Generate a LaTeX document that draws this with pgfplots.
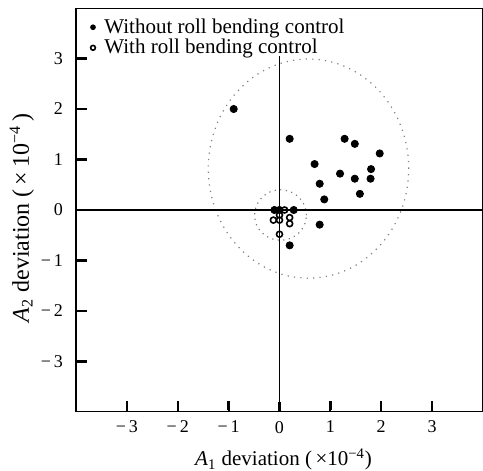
\documentclass[border=0pt]{standalone}
\usepackage{fontspec}
\setmainfont{Liberation Serif}
\usepackage{pgfplots}
\pgfplotsset{compat=1.18}
\begin{document}
\begin{tikzpicture}
\path[use as bounding box] (-38pt,-29.5pt) rectangle (203.5pt,206pt);
\begin{axis}[
  at={(0,0)}, anchor=south west,
  scale only axis, width=203.5pt, height=202pt,
  xmin=-4, xmax=4, ymin=-4, ymax=4,
  axis line style={line width=0.5pt},
  tick align=inside, tick pos=left,
  major tick length=5pt,
  every tick/.style={black, line width=1.1pt},
  xtick={-3,-2,-1,0,1,2,3}, ytick={-3,-2,-1,0,1,2,3},
  xticklabels={−\,3,−\,2,−\,1,0,1,2,3},
  yticklabels={−\,3,−\,2,−\,1,0,1,2,3},
  ticklabel style={font=\fontsize{9}{10}\selectfont},
  xticklabel style={yshift=-1pt},
  yticklabel style={xshift=-3pt},
  xlabel={\textit{A}\textsubscript{1} deviation (\,×10\textsuperscript{−4})},
  ylabel={\textit{A}\textsubscript{2} deviation (\,×\,10\textsuperscript{−4}\,)},
  label style={font=\fontsize{10.5}{12}\selectfont},
  xlabel style={at={(axis description cs:0.51,0)}, anchor=base, yshift=-27pt},
  ylabel style={at={(axis description cs:-0.133,0.48)}, anchor=center,
    font=\fontsize{12}{13}\selectfont},
  legend style={at={(0.03,0.99)}, anchor=north west, draw=none, fill=none,
    font=\fontsize{10.5}{11}\selectfont, row sep=-2.5pt, inner sep=1pt,
    /tikz/every odd column/.append style={column sep=2.5pt}},
  legend image post style={mark size=1.2pt},
  legend cell align=left,
]
\addplot[only marks, mark=*, mark size=1.8pt, black] coordinates {
(-0.9,2.0) (0.2,1.41) (1.28,1.41) (1.48,1.31) (1.97,1.12)
(0.69,0.91) (1.80,0.81) (1.19,0.72) (1.48,0.62) (1.79,0.62)
(0.79,0.52) (1.58,0.32) (0.88,0.21) (0.79,-0.29) (0.2,-0.70)
(-0.1,0) (0,0) (0.28,0)
};
\addlegendentry{Without roll bending control}
\addplot[only marks, mark=o, mark size=1.5pt, black, mark options={line width=0.8pt}] coordinates {
(-0.12,-0.2) (0,-0.1) (0,-0.2) (0.2,-0.15) (0.2,-0.27) (0,-0.48) (0.1,0)
};
\addlegendentry{With roll bending control}
\draw[gray, line width=0.6pt, dash pattern=on 0.6pt off 2.6pt] (axis cs:0.57,0.82) ellipse [x radius=1.97, y radius=2.17];
\draw[gray, line width=0.6pt, dash pattern=on 0.6pt off 2.2pt] (axis cs:0.02,-0.1) ellipse [x radius=0.51, y radius=0.5];
\draw[line width=0.6pt] (axis cs:0,-4) -- (axis cs:0,3.05);
\draw[line width=0.6pt] (axis cs:-4,0) -- (axis cs:4,0);
% tick marks, drawn again so they show at this size
\draw[line width=1.2pt] (axis cs:-3,-3.97) -- (axis cs:-3,-3.78)
  (axis cs:-2,-3.97) -- (axis cs:-2,-3.78) (axis cs:-1,-3.97) -- (axis cs:-1,-3.78)
  (axis cs:1,-3.97) -- (axis cs:1,-3.78) (axis cs:2,-3.97) -- (axis cs:2,-3.78)
  (axis cs:3,-3.97) -- (axis cs:3,-3.78);
\draw[line width=1.1pt] (axis cs:-4,-3) -- (axis cs:-3.78,-3)
  (axis cs:-4,-2) -- (axis cs:-3.78,-2) (axis cs:-4,-1) -- (axis cs:-3.78,-1)
  (axis cs:-4,1) -- (axis cs:-3.78,1) (axis cs:-4,2) -- (axis cs:-3.78,2)
  (axis cs:-4,3) -- (axis cs:-3.78,3);
\draw[line width=1.4pt] (rel axis cs:0,1) -- (rel axis cs:0,0) -- (rel axis cs:1,0);
\end{axis}
\end{tikzpicture}
\end{document}
